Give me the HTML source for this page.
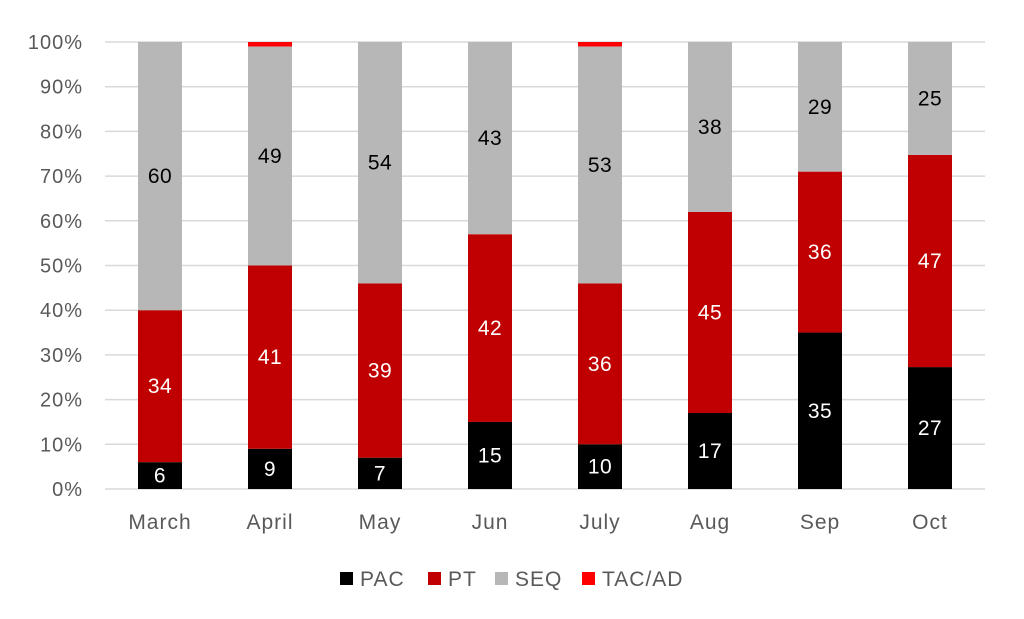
<!DOCTYPE html>
<html><head><meta charset="utf-8"><style>
body{margin:0;background:#fff}
svg{display:block;font-family:"Liberation Sans",sans-serif}
</style></head><body>
<svg id="c" width="1024" height="619" viewBox="0 0 1024 619" xmlns="http://www.w3.org/2000/svg"></svg>
<script>
const s=document.getElementById('c');let h='';
const y0=489,y1=42,H=y0-y1;
for(let i=0;i<=10;i++){const y=y0-H*i/10;
h+=`<line x1="105" x2="985" y1="${y}" y2="${y}" stroke="#d9d9d9" stroke-width="1.5"/>`;
h+=`<text x="83" y="${y+7}" text-anchor="end" font-size="20" letter-spacing="1" fill="#595959">${i*10}%</text>`;}
const d=[["March",6,34,60,0],["April",9,41,49,1],["May",7,39,54,0],["Jun",15,42,43,0],["July",10,36,53,1],["Aug",17,45,38,0],["Sep",35,36,29,0],["Oct",27,47,25,0]];
const cols=["#000000","#C00000","#B7B7B7","#FF0000"],tc=["#fff","#fff","#000",""];
d.forEach((r,i)=>{const cx=160+110*i,x=cx-22;const tot=r[1]+r[2]+r[3]+r[4];let acc=0;
for(let k=0;k<4;k++){const v=r[k+1];if(!v)continue;const ya=y0-H*acc/tot,yb=y0-H*(acc+v)/tot;
h+=`<rect x="${x}" y="${yb}" width="44" height="${ya-yb}" fill="${cols[k]}"/>`;
if(k<3)h+=`<text x="${cx}" y="${(ya+yb)/2+7}" text-anchor="middle" font-size="21" letter-spacing="0.5" fill="${tc[k]}">${v}</text>`;
acc+=v;}
h+=`<text x="${cx}" y="529" text-anchor="middle" font-size="21" letter-spacing="1" fill="#595959">${r[0]}</text>`;});
const lg=[[340,"PAC",0],[428,"PT",1],[495,"SEQ",2],[582,"TAC/AD",3]];
lg.forEach(l=>{h+=`<rect x="${l[0]}" y="572" width="13" height="13" fill="${cols[l[2]]}"/><text x="${l[0]+20}" y="586" font-size="21" letter-spacing="1" fill="#595959">${l[1]}</text>`;});
s.innerHTML=h;
</script>
</body></html>
